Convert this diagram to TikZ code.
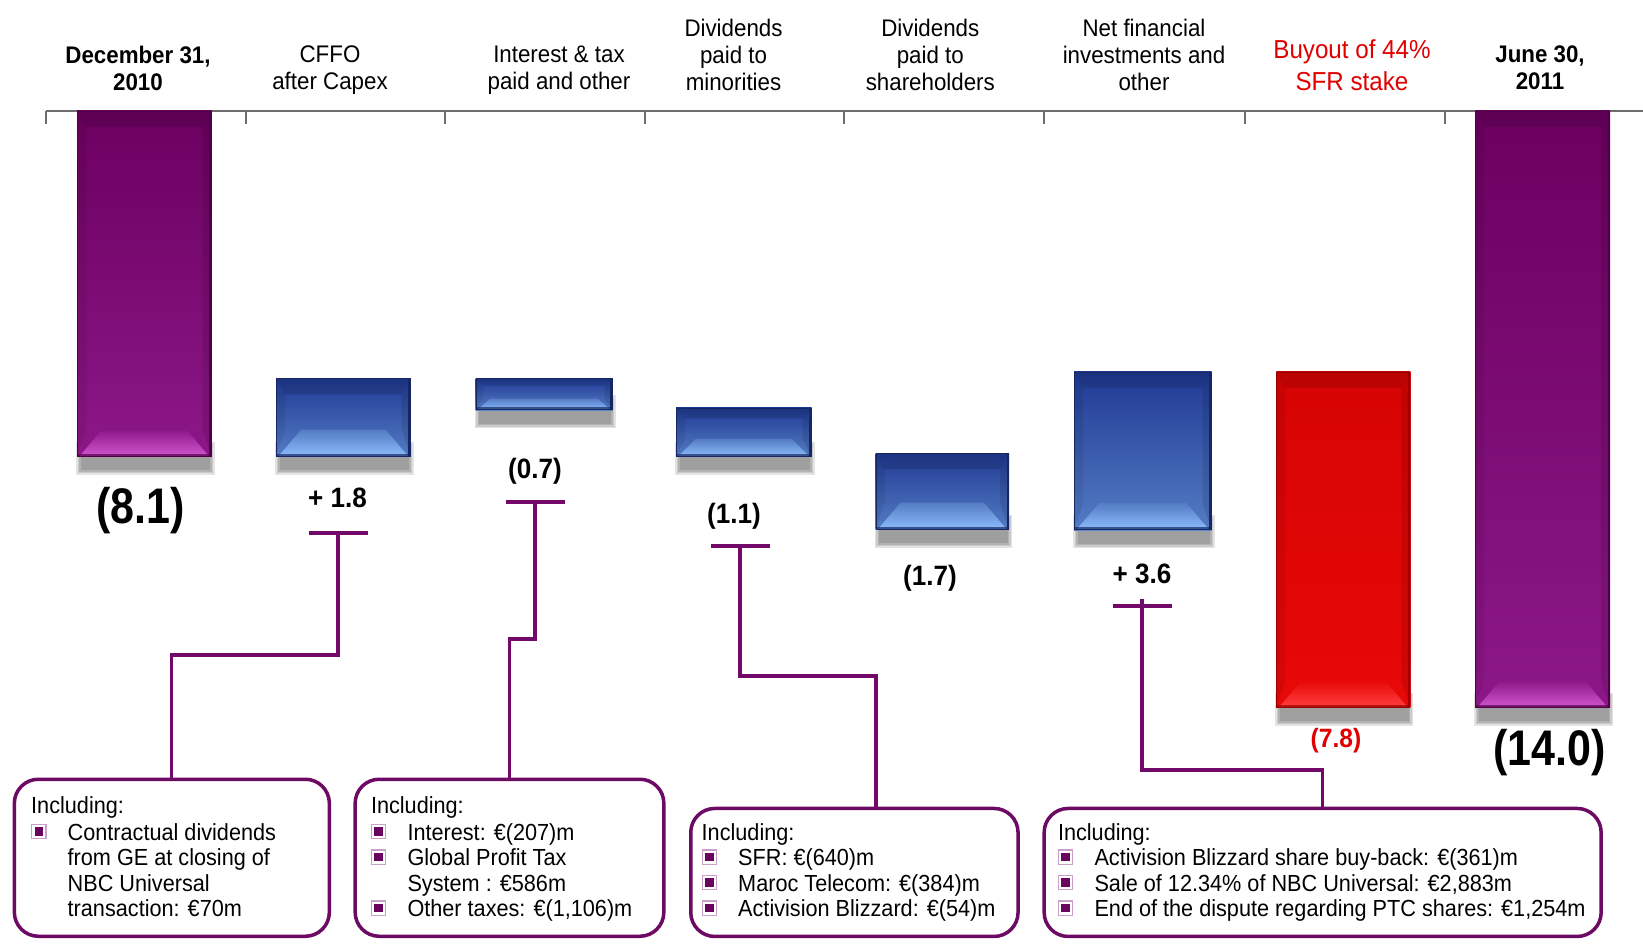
\documentclass[tikz,border=0pt]{standalone}
\usepackage{fontspec}
\setmainfont[FakeStretch=0.93]{Liberation Sans}
\newfontfamily\bigfont[FakeStretch=0.86]{Liberation Sans}
\usetikzlibrary{calc}

\definecolor{plum}{RGB}{114,8,106}
\definecolor{boxline}{RGB}{108,10,100}
\definecolor{bulfill}{RGB}{105,5,95}
\definecolor{bulline}{RGB}{200,160,200}
\definecolor{axisgray}{RGB}{110,110,110}
\definecolor{redtxt}{RGB}{224,0,0}
\definecolor{btop}{RGB}{32,58,148}
\definecolor{bbot}{RGB}{84,124,196}
\definecolor{blight}{RGB}{140,188,252}
\definecolor{bedge}{RGB}{22,40,100}
\definecolor{ptop}{RGB}{108,0,96}
\definecolor{pbot}{RGB}{140,24,136}
\definecolor{plight}{RGB}{210,86,208}
\definecolor{pedge}{RGB}{80,0,70}
\definecolor{rtop}{RGB}{214,4,4}
\definecolor{rbot}{RGB}{232,8,8}
\definecolor{rlight}{RGB}{255,64,64}
\definecolor{redge}{RGB}{150,0,0}

% #1 left, #2 top, #3 right, #4 bottom, #5 top colour, #6 bottom colour, #7 light, #8 edge
\newcommand{\wbar}[8]{%
  \foreach \k in {5,3.5,2,0.5}{\fill[black,opacity=0.11] (#1+4-\k,#4-10-\k) rectangle (#3-2+\k,#4+13+\k);}
  \pgfmathsetmacro\barH{#4-#2}
  \pgfmathsetmacro\barT{min(16,0.22*\barH)}
  \pgfmathsetmacro\barS{min(9,0.25*\barH)}
  \pgfmathsetmacro\barB{min(27,0.36*\barH)}
  \pgfmathsetmacro\barI{\barS+0.6*\barB}
  \shade[top color=#5,bottom color=#6] (#1,#2) rectangle (#3,#4);
  \fill[black,opacity=0.13] (#1,#2) -- (#3,#2) -- (#3-\barS,#2+\barT) -- (#1+\barS,#2+\barT) -- cycle;
  \fill[black,opacity=0.07] (#1,#2) -- (#1+\barS,#2+\barT) -- (#1+\barS,#4-\barB) -- (#1,#4) -- cycle;
  \fill[black,opacity=0.10] (#3,#2) -- (#3-\barS,#2+\barT) -- (#3-\barS,#4-\barB) -- (#3,#4) -- cycle;
  \shade[top color=#6,bottom color=#7] (#1+2,#4) -- (#3-2,#4) -- (#3-\barI,#4-\barB) -- (#1+\barI,#4-\barB) -- cycle;
  \draw[#8,line width=1] (#1+0.5,#2+0.5) rectangle (#3-0.5,#4-0.5);
  \draw[#8,line width=2.5] (#3-1.25,#2) -- (#3-1.25,#4);
  \draw[#8,opacity=0.7,line width=3] (#1,#4-1.5) -- (#3,#4-1.5);
}

\newcommand{\bul}{\makebox[36.5pt][l]{\raisebox{4.5pt}{\fboxsep=2.2pt\fboxrule=1.2pt\fcolorbox{bulline}{white}{\textcolor{bulfill}{\rule{8.5pt}{8.5pt}}}}}}
\newcommand{\ind}{\hspace*{36.5pt}}

\tikzset{
  hdr/.style={align=center, anchor=north, inner sep=0, font=\fontsize{24pt}{27pt}\selectfont},
  hdrb/.style={hdr, font=\fontsize{24pt}{27pt}\selectfont\bfseries},
  val/.style={inner sep=0, font=\fontsize{28pt}{30pt}\selectfont\bfseries},
  bigval/.style={inner sep=0, font=\fontsize{50pt}{54pt}\selectfont\bigfont\bfseries},
  infobox/.style={draw=boxline, line width=3.5pt, rounded corners=24pt, anchor=north west, inner sep=0},
  boxtxt/.style={align=left, anchor=north west, inner sep=0, font=\fontsize{23.3pt}{25.5pt}\selectfont},
  tbar/.style={plum, line width=4pt},
  conn/.style={plum, line width=3.2pt},
}

\begin{document}
\begin{tikzpicture}[x=1pt,y=-1pt]
\useasboundingbox (0,0) rectangle (1643,944);
\fill[white] (0,0) rectangle (1643,944);

% axis
\draw[axisgray, line width=2pt] (46,111) -- (1643,111);
\foreach \t in {46,245.5,444.5,644.5,844,1043.5,1244.5,1444.5}{\draw[axisgray, line width=2pt] (\t,111) -- (\t,124);}

% headers
\node[hdrb] (h1) at (138,46) {December 31,\\2010};
\node[hdr] (h2) at (330,46) {CFFO\\after Capex};
\node[hdr] (h3) at (559,46) {Interest \& tax\\paid and other};
\node[hdr] (h4) at (733.5,18.8) {Dividends\\paid to\\minorities};
\node[hdr] (h5) at (930.3,18.8) {Dividends\\paid to\\shareholders};
\node[hdr] (h6) at (1144,18.8) {Net financial\\investments and\\other};
\node[hdr, text=redtxt, font=\fontsize{26pt}{31.7pt}\selectfont] (h7) at (1352,39.3) {Buyout of 44\%\\SFR stake};
\node[hdrb] (h8) at (1540,46) {June 30,\\2011};

% bars
\wbar{77}{111}{211.5}{456.7}{ptop}{pbot}{plight}{pedge}
\wbar{276}{378.3}{410.7}{456.7}{btop}{bbot}{blight}{bedge}
\wbar{475.5}{378.3}{612.5}{410}{btop}{bbot}{blight}{bedge}
\wbar{676}{407.5}{811.5}{456.7}{btop}{bbot}{blight}{bedge}
\wbar{875.5}{453}{1009}{529.5}{btop}{bbot}{blight}{bedge}
\wbar{1074}{371.7}{1211.5}{530}{btop}{bbot}{blight}{bedge}
\wbar{1276.4}{371.7}{1410.4}{707.7}{rtop}{rbot}{rlight}{redge}
\wbar{1475}{111}{1610}{707.7}{ptop}{pbot}{plight}{pedge}

% values
\node[bigval] (v1) at (140.5,511) {(8.1)};
\node[val] (v2) at (337.5,498) {+ 1.8};
\node[val] (v3) at (535,471.7) {(0.7)};
\node[val] (v4) at (734,515.8) {(1.1)};
\node[val] (v5) at (930,578) {(1.7)};
\node[val] (v6) at (1142,574) {+ 3.6};
\node[val, text=redtxt, font=\fontsize{26.5pt}{28pt}\selectfont\bfseries] (v7) at (1336,740.8) {(7.8)};
\node[bigval] (v8) at (1549.5,752.5) {(14.0)};

% boxes
\node[infobox, minimum width=315pt, minimum height=157pt] (box1) at (12.6,777.5) {};
\node[infobox, minimum width=308.7pt, minimum height=157pt] (box2) at (353.4,777.5) {};
\node[infobox, minimum width=327.3pt, minimum height=128pt] (box3) at (689,806.7) {};
\node[infobox, minimum width=557pt, minimum height=128pt] (box4) at (1042.4,806.7) {};

\node[boxtxt] (b1t) at (31,796.6) {Including:\\[1.2pt]\bul Contractual dividends\\\ind from GE at closing of\\\ind NBC Universal\\\ind transaction: €70m};
\node[boxtxt] (b2t) at (370.8,796.6) {Including:\\[1.2pt]\bul Interest: €(207)m\\\bul Global Profit Tax\\\ind System : €586m\\\bul Other taxes: €(1,106)m};
\node[boxtxt] (b3t) at (701.5,823.3) {Including:\\\bul SFR: €(640)m\\\bul Maroc Telecom: €(384)m\\\bul Activision Blizzard: €(54)m};
\node[boxtxt] (b4t) at (1057.8,823.3) {Including:\\\bul Activision Blizzard share buy-back: €(361)m\\\bul Sale of 12.34\% of NBC Universal: €2,883m\\\bul End of the dispute regarding PTC shares: €1,254m};

% brackets and connectors
\coordinate (t1) at (338,533.3);
\coordinate (t2) at (535,501.7);
\coordinate (t3) at (740,546);
\coordinate (t4) at (1142,606);
\foreach \c in {t1,t2,t3,t4}{\draw[tbar] ($(\c)+(-29.5,0)$) -- ($(\c)+(29.5,0)$);}
\draw[conn] (t1) -- ++(0,121.7) -| (box1.north);
\draw[conn] (t2) -- ++(0,137.3) -| (box2.north);
\draw[conn] (t3) -- ++(0,130) -| ([xshift=21.6pt]box3.north);
\draw[conn] ([yshift=7pt]t4) -- ++(0,171) -| (box4.north);
\end{tikzpicture}
\end{document}
